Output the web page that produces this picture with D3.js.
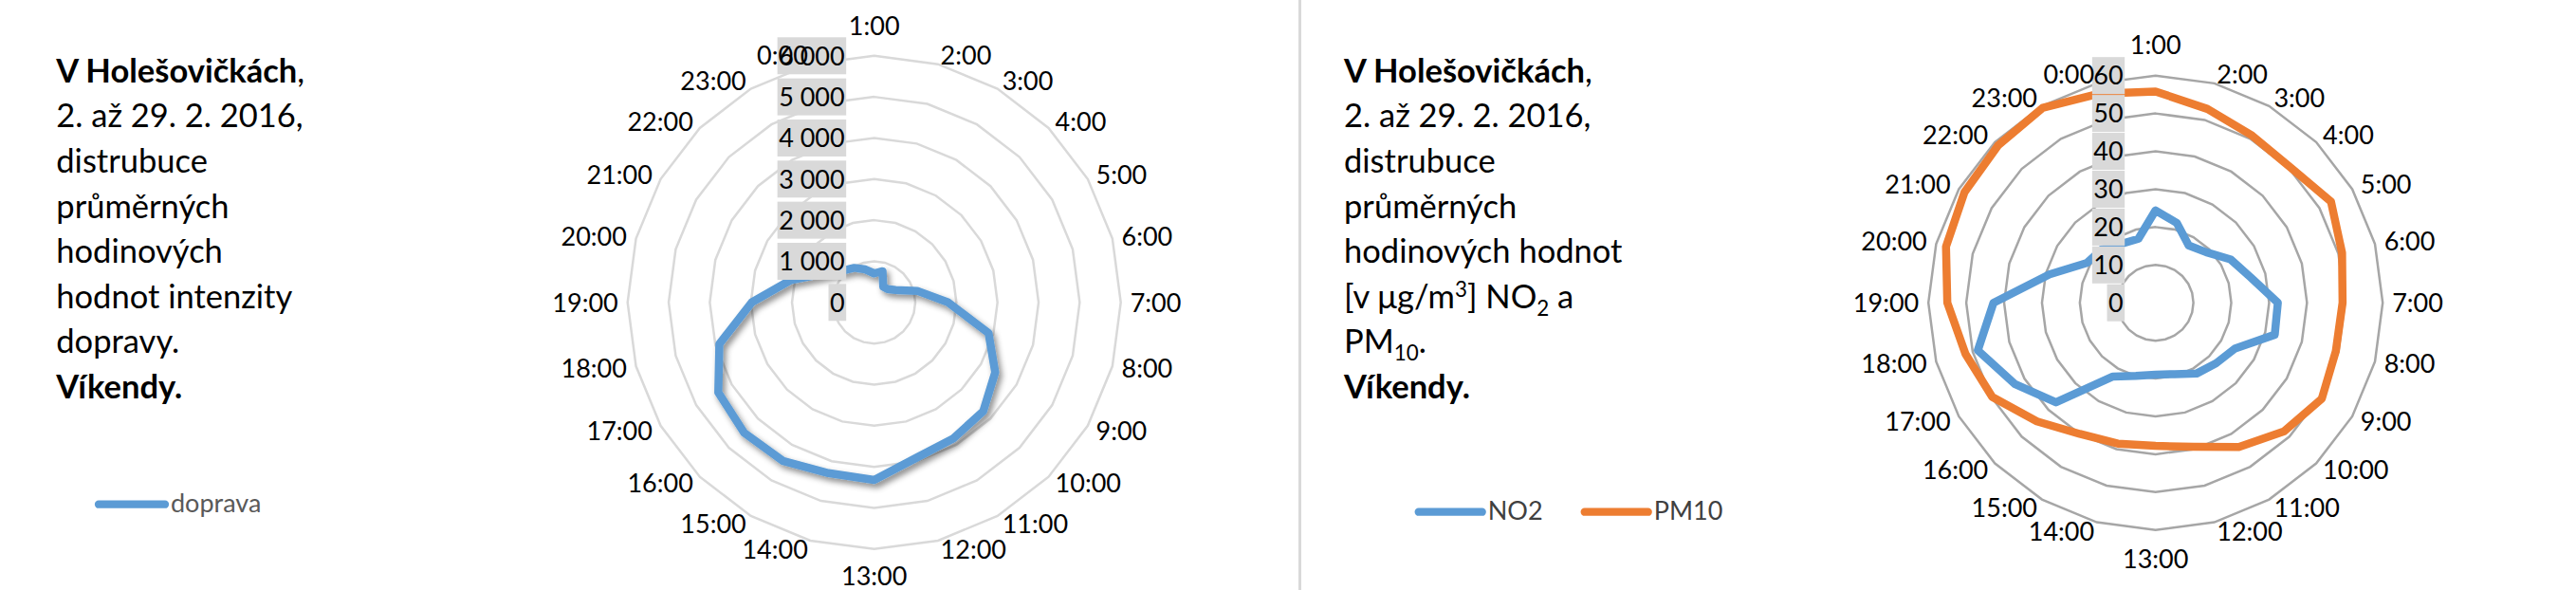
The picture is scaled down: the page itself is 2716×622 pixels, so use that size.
<!DOCTYPE html>
<html><head><meta charset="utf-8">
<script src="https://cdn.jsdelivr.net/npm/d3@7"></script>
<style>
html,body{margin:0;padding:0;background:#fff;}
svg{display:block;}
text{font-family:Lato,'Open Sans',sans-serif;}
</style></head><body>
<svg id="c" width="2716" height="622"></svg>
<script>
// ---------- data ----------
const hours = ["1:00","2:00","3:00","4:00","5:00","6:00","7:00","8:00","9:00","10:00","11:00","12:00",
               "13:00","14:00","15:00","16:00","17:00","18:00","19:00","20:00","21:00","22:00","23:00","0:00"];
const doprava = [705, 785, 440, 460, 600, 1085, 1800, 2880, 3400, 3750, 3830, 3920,
                 4320, 4300, 4450, 4480, 4380, 3900, 2980, 2100, 1410, 1090, 970, 830];
const no2  = [24.4, 21.8, 17.5, 18.9, 22.9, 26.0, 32.3, 32.6, 24.2, 22.6, 21.6, 19.5,
              19.0, 20.0, 22.5, 37.2, 42.9, 48.6, 42.8, 29.0, 21.0, 20.0, 18.0, 17.5];
const pm10 = [55.8, 53.0, 51.0, 50.5, 53.5, 51.0, 49.4, 49.3, 50.7, 48.0, 44.0, 39.4,
              37.8, 38.5, 40.0, 44.3, 49.8, 52.0, 55.0, 57.3, 58.3, 58.8, 59.5, 57.2];
const trafficTicks = [0, 1000, 2000, 3000, 4000, 5000, 6000];
const trafficTickLabels = ["0", "1 000", "2 000", "3 000", "4 000", "5 000", "6 000"];
const pollutionTicks = [0, 10, 20, 30, 40, 50, 60];
const pollutionTickLabels = ["0", "10", "20", "30", "40", "50", "60"];
const leftLines = ["V Holešovičkách", "2. až 29. 2. 2016,", "distrubuce", "průměrných",
                   "hodinových", "hodnot intenzity", "dopravy.", "Víkendy."];

const svg = d3.select("#c");
const FS = 27;

// defs: shadow
const defs = svg.append("defs");
const f = defs.append("filter").attr("id","sh").attr("x","-20%").attr("y","-20%").attr("width","140%").attr("height","140%");
f.append("feDropShadow").attr("dx",3).attr("dy",4).attr("stdDeviation",3)
 .attr("flood-color","#000").attr("flood-opacity",0.45);

// separator
svg.append("rect").attr("x",1369).attr("y",0).attr("width",3).attr("height",622).attr("fill","#d9d9d9");

function radar(cfg){
  const g = svg.append("g").attr("transform",`translate(${cfg.cx},${cfg.cy})`);
  const r = d3.scaleLinear().domain([0, cfg.max]).range([0, cfg.R]);
  const ang = d3.scaleLinear().domain([0, hours.length]).range([0, 2*Math.PI]);
  const line = d3.lineRadial().angle((d,i)=>ang(i)).radius(d=>r(d)).curve(d3.curveLinearClosed);
  // grid rings
  g.append("g").selectAll("path").data(cfg.ticks.filter(t=>t>0)).join("path")
    .attr("d", t => line(hours.map(()=>t)))
    .attr("fill","none").attr("stroke",cfg.gridColor).attr("stroke-width",2.5);
  // series
  cfg.series.forEach(s=>{
    g.append("path").attr("d", line(s.values)).attr("fill","none")
      .attr("stroke", s.color).attr("stroke-width", 8.5).attr("stroke-linejoin","round")
      .attr("filter", s.shadow ? "url(#sh)" : null);
  });
  // tick labels with grey boxes
  const tg = g.append("g");
  cfg.ticks.forEach((t,i)=>{
    const y = -r(t);
    const txt = tg.append("text").attr("x",-cfg.tickOff).attr("y", y + 0.36*FS)
      .attr("text-anchor","end").attr("font-size",FS).attr("fill","#000").text(cfg.tickLabels[i]);
    const bb = txt.node().getBBox();
    tg.insert("rect","text").attr("x",bb.x-1.5).attr("width",bb.width+3)
      .attr("y",y-19.5).attr("height",39).attr("fill","#d9d9d9");
  });
  // category labels
  const lg = g.append("g");
  hours.forEach((h,i)=>{
    const a = ang(i), s = Math.sin(a), c = -Math.cos(a);
    let x, y, anchor;
    if (Math.abs(s) < 1e-6) {
      x = 0; anchor = "middle";
      y = c < 0 ? -cfg.R - 32 : cfg.R + cfg.botOff;
    } else {
      x = (cfg.R + 10) * s; y = (cfg.R + 10) * c;
      anchor = s > 0 ? "start" : "end";
    }
    lg.append("text").attr("x",x).attr("y",y + 0.36*FS).attr("text-anchor",anchor)
      .attr("font-size",FS).attr("fill","#000").text(h);
  });
}

radar({cx:921.7, cy:318.8, R:260, max:6000, ticks:trafficTicks, tickLabels:trafficTickLabels,
       gridColor:"#d9d9d9", tickOff:31, botOff:28,
       series:[{values:doprava, color:"#5b9bd5", shadow:true}]});
radar({cx:2272.7, cy:319.2, R:239.5, max:60, ticks:pollutionTicks, tickLabels:pollutionTickLabels,
       gridColor:"#a6a6a6", tickOff:34, botOff:31,
       series:[{values:no2, color:"#5b9bd5"},{values:pm10, color:"#ed7d31"}]});

// ---------- text blocks ----------
const TFS = 34.5, base0 = 86.7, lh = 47.6;
function block(x, lines){
  const t = svg.append("text").attr("font-size",TFS).attr("fill","#000");
  lines.forEach((ln,i)=>{
    const tl = t.append("tspan").attr("x",x).attr("y",base0+i*lh);
    ln.forEach(seg=>{
      const sp = tl.append("tspan").text(seg.t);
      if (seg.b) sp.attr("font-weight","bold");
      if (seg.sub) sp.attr("font-size",TFS*0.65).attr("dy",8);
      if (seg.sup) sp.attr("font-size",TFS*0.65).attr("dy",-12);
      if (seg.back) sp.attr("dy",seg.back);
    });
  });
}
block(59.3, [
  [{t:"V Holešovičkách",b:true},{t:","}],
  [{t:leftLines[1]}],[{t:leftLines[2]}],[{t:leftLines[3]}],[{t:leftLines[4]}],
  [{t:leftLines[5]}],[{t:leftLines[6]}],[{t:leftLines[7],b:true}]
]);
block(1417, [
  [{t:"V Holešovičkách",b:true},{t:","}],
  [{t:"2. až 29. 2. 2016,"}],[{t:"distrubuce"}],[{t:"průměrných"}],[{t:"hodinových hodnot"}],
  [{t:"[v μg/m"},{t:"3",sup:true},{t:"] NO",back:12},{t:"2",sub:true},{t:" a",back:-8}],
  [{t:"PM"},{t:"10",sub:true},{t:".",back:-8}],
  [{t:"Víkendy.",b:true}]
]);

// ---------- legends ----------
function legend(x1, x2, y, color, label, tcol){
  svg.append("line").attr("x1",x1+4).attr("x2",x2-4).attr("y1",y).attr("y2",y)
    .attr("stroke",color).attr("stroke-width",8.3).attr("stroke-linecap","round");
  svg.append("text").attr("x",x2+2).attr("y",y+8.5).attr("font-size",FS).attr("fill",tcol).text(label);
}
legend(100, 178, 531.7, "#5b9bd5", "doprava", "#595959");
legend(1491.7, 1566.7, 539.7, "#5b9bd5", "NO2", "#404040");
legend(1666.7, 1741.7, 539.7, "#ed7d31", "PM10", "#404040");
</script>
</body></html>
